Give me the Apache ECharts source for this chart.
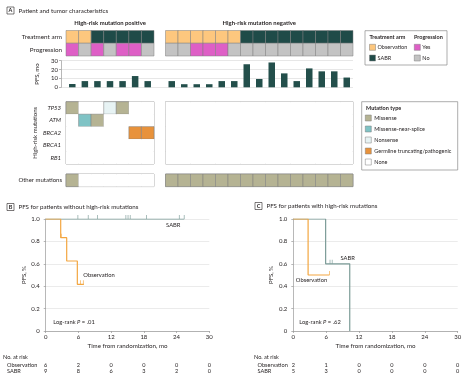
<!DOCTYPE html>
<html>
<head>
<meta charset="utf-8">
<script src="https://cdn.jsdelivr.net/npm/echarts@6/dist/echarts.min.js"></script>
<style>
html, body { margin: 0; padding: 0; background: #fff; }
#chart { width: 467px; height: 381px; }
</style>
</head>
<body>
<div id="chart"></div>
<script>
// patient rows (high-risk positive: 7 patients, negative: 15 patients)
var armPos = ['Observation', 'Observation', 'SABR', 'SABR', 'SABR', 'SABR', 'SABR'];
var armNeg = ['Observation', 'Observation', 'Observation', 'Observation', 'Observation', 'Observation',
  'SABR', 'SABR', 'SABR', 'SABR', 'SABR', 'SABR', 'SABR', 'SABR', 'SABR'];
var progPos = ['Yes', 'No', 'Yes', 'No', 'Yes', 'Yes', 'No'];
var progNeg = ['No', 'No', 'Yes', 'Yes', 'Yes', 'No', 'No', 'No', 'No', 'No', 'No', 'No', 'No', 'No', 'No'];
var pfsPos = [3.7, 7, 7, 7, 7, 12.7, 7];
var pfsNeg = [7, 3.5, 3.5, 3.5, 7, 7, 26, 9.4, 28, 15.7, 7, 21.3, 18, 18, 11];

// mutations
var genes = ['TP53', 'ATM', 'BRCA2', 'BRCA1', 'RB1'];
var GL = 'Germline truncating/pathogenic';
var tp53Pos = ['Missense', 'None', 'None', 'Nonsense', 'Missense', 'None', 'None'];
var atmPos = ['None', 'Missense-near-splice', 'Missense', 'None', 'None', 'None', 'None'];
var brca2Pos = ['None', 'None', 'None', 'None', 'None', GL, GL];
var brca1Pos = ['None', 'None', 'None', 'None', 'None', 'None', 'None'];
var rb1Pos = ['None', 'None', 'None', 'None', 'None', 'None', 'None'];
var noneNeg = ['None', 'None', 'None', 'None', 'None', 'None', 'None', 'None', 'None', 'None', 'None', 'None', 'None', 'None', 'None'];
var otherPos = ['Missense', 'None', 'None', 'None', 'None', 'None', 'None'];
var otherNeg = ['Missense', 'Missense', 'Missense', 'Missense', 'Missense', 'Missense', 'Missense', 'Missense',
  'Missense', 'Missense', 'Missense', 'Missense', 'Missense', 'Missense', 'Missense'];

// Kaplan-Meier curves [months, PFS]
var obsB = [[0, 1], [2.75, 0.833], [3.85, 0.625], [5.8, 0.417], [7.0, 0.417]];
var obsBCens = [[2.85, 0.833], [6.4, 0.417], [6.9, 0.417]];
var sabrB = [[0, 1], [25.4, 1]];
var sabrBCens = [[5.9, 1], [7.8, 1], [9.5, 1], [14.7, 1], [15.1, 1], [15.5, 1], [18.5, 1], [24.5, 1], [25.4, 1]];
var obsC = [[0, 1], [2.7, 0.5], [6.6, 0.5]];
var obsCCens = [[6.6, 0.5]];
var sabrC = [[0, 1], [5.9, 0.6], [10.3, 0]];
var sabrCCens = [[6.7, 0.6], [7.1, 0.6]];

// numbers at risk
var riskTimes = [0, 6, 12, 18, 24, 30];
var riskObsB = [6, 2, 0, 0, 0, 0];
var riskSabrB = [9, 8, 6, 3, 2, 0];
var riskObsC = [2, 1, 0, 0, 0, 0];
var riskSabrC = [5, 3, 0, 0, 0, 0];

var FONT = 'Lato';
var TXT = '#231f20';
var colorOf = {
  'Observation': '#fdc77e', 'SABR': '#1f4b48', 'Yes': '#de5fc6', 'No': '#c3c3c3',
  'Missense': '#b5b393', 'Missense-near-splice': '#7fc3c5', 'Nonsense': '#e7f3f4',
  'Germline truncating/pathogenic': '#e8923b', 'None': '#ffffff'
};
var OBS_LINE = '#f3a640';
var SABR_LINE = '#7b9b97';

var chart = echarts.init(document.getElementById('chart'), null, { renderer: 'canvas' });

function idx(n) { var a = []; for (var i = 0; i < n; i++) a.push(String(i + 1)); return a; }

function cellSeries(gi, rows) {
  var data = [], kinds = [];
  rows.forEach(function (row, r) {
    row.forEach(function (k, c) { data.push([c, r]); kinds.push(k); });
  });
  return {
    type: 'custom', xAxisIndex: gi, yAxisIndex: gi, data: data, silent: true,
    renderItem: function (params, api) {
      var kind = kinds[params.dataIndex];
      var p = api.coord([api.value(0), api.value(1)]);
      var s = api.size([1, 1]);
      return {
        type: 'rect',
        shape: { x: p[0] - s[0] / 2, y: p[1] - s[1] / 2, width: s[0], height: s[1] },
        style: { fill: colorOf[kind], stroke: kind === 'None' ? null : '#7d7d7d', lineWidth: 0.5 }
      };
    }
  };
}

var grids = [], xAxes = [], yAxes = [], series = [];
function addGrid(g, xa, ya) {
  var gi = grids.length;
  grids.push(g);
  xa.gridIndex = gi;
  ya.gridIndex = gi;
  xAxes.push(xa);
  yAxes.push(ya);
  return gi;
}
function hiddenCat(n) { return { type: 'category', data: idx(n), show: false }; }
function lbl(extra) {
  var o = { fontSize: 6, fontFamily: FONT, color: TXT };
  for (var k in extra) o[k] = extra[k];
  return o;
}

// 0,1 treatment arm / progression
[[66, 88, 7], [165.5, 187.5, 15]].forEach(function (g, i) {
  addGrid({ left: g[0], top: 30.5, width: g[1], height: 25.5 }, hiddenCat(g[2]), {
    type: 'category', data: ['Treatment arm', 'Progression'], inverse: true, show: i === 0,
    axisLine: { show: false }, axisTick: { show: false }, axisLabel: lbl({ margin: 4, fontSize: 6.3, interval: 0 })
  });
});
series.push(cellSeries(0, [armPos, progPos]));
series.push(cellSeries(1, [armNeg, progNeg]));

// 2 PFS background axis
addGrid({ left: 61, top: 60.7, width: 292, height: 26.6 }, { type: 'value', min: 0, max: 1, show: false }, {
  type: 'value', min: 0, max: 30, interval: 10, name: 'PFS, mo', nameLocation: 'middle', nameGap: 12,
  nameTextStyle: lbl({}),
  axisLine: { show: true, lineStyle: { color: '#9a9a9a', width: 0.7 } },
  axisTick: { show: true, length: 2, lineStyle: { color: '#9a9a9a', width: 0.7 } },
  axisLabel: lbl({ margin: 3 }),
  splitLine: { lineStyle: { color: '#dcdcdc', width: 0.7 } }
});
// 3,4 PFS bars
[[66, 88, 7, pfsPos], [165.5, 187.5, 15, pfsNeg]].forEach(function (g) {
  var gi = addGrid({ left: g[0], top: 60.7, width: g[1], height: 26.6 }, hiddenCat(g[2]),
    { type: 'value', min: 0, max: 30, show: false });
  series.push({
    type: 'bar', xAxisIndex: gi, yAxisIndex: gi, data: g[3], barWidth: 6.5,
    itemStyle: { color: '#234f4b' }, silent: true
  });
});

// 5,6 high-risk mutations
[[66, 88, 7], [165.5, 187.5, 15]].forEach(function (g, i) {
  addGrid({ left: g[0], top: 101.7, width: g[1], height: 62.3, show: true, borderColor: '#a0a0a0', borderWidth: 0.8 },
    hiddenCat(g[2]), {
      type: 'category', data: genes, inverse: true, show: i === 0,
      name: 'High-risk mutations', nameLocation: 'middle', nameGap: 28, nameTextStyle: lbl({}),
      axisLine: { show: false }, axisTick: { show: false },
      axisLabel: lbl({ margin: 5, fontStyle: 'italic', interval: 0 })
    });
});
series.push(cellSeries(5, [tp53Pos, atmPos, brca2Pos, brca1Pos, rb1Pos]));
series.push(cellSeries(6, [noneNeg, noneNeg, noneNeg, noneNeg, noneNeg]));

// 7,8 other mutations
[[66, 88, 7], [165.5, 187.5, 15]].forEach(function (g, i) {
  addGrid({ left: g[0], top: 174, width: g[1], height: 12.6, show: true, borderColor: '#a0a0a0', borderWidth: 0.8 },
    hiddenCat(g[2]), {
      type: 'category', data: ['Other mutations'], show: i === 0,
      axisLine: { show: false }, axisTick: { show: false }, axisLabel: lbl({ margin: 4 })
    });
});
series.push(cellSeries(7, [otherPos]));
series.push(cellSeries(8, [otherNeg]));

// 9,10 Kaplan-Meier
function kmAxes(left, width) {
  return addGrid({ left: left, top: 219, width: width, height: 112 }, {
    type: 'value', min: 0, max: 30, interval: 6,
    name: 'Time from randomization, mo', nameLocation: 'middle', nameGap: 12, nameTextStyle: lbl({ fontSize: 6.2 }),
    axisLine: { lineStyle: { color: '#9a9a9a', width: 0.7 } },
    axisTick: { length: 2, lineStyle: { color: '#9a9a9a', width: 0.7 } },
    axisLabel: lbl({ margin: 3 }), splitLine: { show: false }
  }, {
    type: 'value', min: 0, max: 1, interval: 0.2,
    name: 'PFS, %', nameLocation: 'middle', nameGap: 19, nameTextStyle: lbl({}),
    axisLine: { show: true, lineStyle: { color: '#9a9a9a', width: 0.7 } },
    axisTick: { show: true, length: 2, lineStyle: { color: '#9a9a9a', width: 0.7 } },
    axisLabel: lbl({ margin: 6, formatter: function (v) { return v === 0 ? '0' : v.toFixed(1); } }),
    splitLine: { lineStyle: { color: '#e3e3e3', width: 0.7 } }
  });
}
function kmSeries(gi, line, cens, color) {
  series.push({
    type: 'line', xAxisIndex: gi, yAxisIndex: gi, data: line, step: 'end', showSymbol: false,
    lineStyle: { color: color, width: 1.2 }, silent: true, z: 3
  });
  series.push({
    type: 'scatter', xAxisIndex: gi, yAxisIndex: gi, data: cens, symbol: 'rect',
    symbolSize: [0.8, 4], symbolOffset: [0, -2], itemStyle: { color: color }, silent: true, z: 4
  });
}
var gB = kmAxes(45.7, 163.6);
kmSeries(gB, sabrB, sabrBCens, SABR_LINE);
kmSeries(gB, obsB, obsBCens, OBS_LINE);
var gC = kmAxes(293.3, 164.4);
kmSeries(gC, sabrC, sabrCCens, SABR_LINE);
kmSeries(gC, obsC, obsCCens, OBS_LINE);

// 11,12 numbers at risk
function riskTable(left, width, labelLeft, obs, sabr) {
  var gi = addGrid({ left: left, top: 362, width: width, height: 12 },
    { type: 'value', min: 0, max: 30, show: false }, {
      type: 'category', data: ['Observation', 'SABR'], inverse: true,
      axisLine: { show: false }, axisTick: { show: false },
      axisLabel: lbl({ align: 'left', margin: left - labelLeft, fontSize: 5.6, interval: 0, hideOverlap: false })
    });
  var data = [];
  riskTimes.forEach(function (t, i) { data.push([t, 0, obs[i]]); data.push([t, 1, sabr[i]]); });
  series.push({
    type: 'custom', xAxisIndex: gi, yAxisIndex: gi, data: data, silent: true,
    renderItem: function (params, api) {
      var p = api.coord([api.value(0), api.value(1)]);
      return {
        type: 'text', x: p[0], y: p[1],
        style: { text: String(api.value(2)), fill: TXT, font: '5.6px ' + FONT, align: 'center', verticalAlign: 'middle' }
      };
    }
  });
}
riskTable(45.7, 163.6, 7, riskObsB, riskSabrB);
riskTable(293.3, 164.4, 257.5, riskObsC, riskSabrC);

// texts & legends
function t(x, y, text, extra) {
  var st = { text: text, fill: TXT, fontSize: 6, fontFamily: FONT, align: 'left', verticalAlign: 'middle' };
  for (var k in extra) st[k] = extra[k];
  return { type: 'text', x: x, y: y, style: st, silent: true };
}
function box(x, y, w, h, extra) {
  var st = { fill: 'none', stroke: '#8a8a8a', lineWidth: 0.7 };
  for (var k in extra) st[k] = extra[k];
  return { type: 'rect', shape: { x: x, y: y, width: w, height: h }, style: st, silent: true };
}
function sw(x, y, key) {
  return box(x, y, 6, 6, { fill: colorOf[key], stroke: '#7d7d7d', lineWidth: 0.5 });
}
function panel(x, y, letter, title) {
  return [
    box(x, y, 7, 7, { stroke: '#231f20', lineWidth: 0.6 }),
    t(x + 3.5, y + 3.6, letter, { fontSize: 5.5, fontWeight: 'bold', align: 'center' }),
    t(x + 11.5, y + 3.6, title, { fontSize: 6.2 })
  ];
}
var rich = { i: { fontStyle: 'italic', fontSize: 5.8, fontFamily: FONT, fill: TXT } };
var LG = 5.5;
var graphic = [].concat(
  panel(7, 7, 'A', 'Patient and tumor characteristics'),
  panel(7, 203.5, 'B', 'PFS for patients without high-risk mutations'),
  panel(255, 202.5, 'C', 'PFS for patients with high-risk mutations'),
  [
    t(110, 23.5, 'High-risk mutation positive', { fontWeight: 'bold', align: 'center', fontSize: 5.9 }),
    t(259.2, 23.5, 'High-risk mutation negative', { fontWeight: 'bold', align: 'center', fontSize: 5.9 }),
    // legend 1
    box(365, 30.7, 82, 34.3),
    t(369.5, 37.5, 'Treatment arm', { fontWeight: 'bold', fontSize: LG }),
    t(414, 37.5, 'Progression', { fontWeight: 'bold', fontSize: LG }),
    sw(369.5, 44.3, 'Observation'), t(377.5, 47.3, 'Observation', { fontSize: LG }),
    sw(369.5, 55, 'SABR'), t(377.5, 58, 'SABR', { fontSize: LG }),
    sw(414.3, 44.3, 'Yes'), t(422.3, 47.3, 'Yes', { fontSize: LG }),
    sw(414.3, 55, 'No'), t(422.3, 58, 'No', { fontSize: LG }),
    // legend 2
    box(361.7, 101.7, 96, 68.3),
    t(366, 108.5, 'Mutation type', { fontWeight: 'bold', fontSize: LG }),
    sw(365.3, 115, 'Missense'), t(374.3, 118, 'Missense', { fontSize: LG }),
    sw(365.3, 126, 'Missense-near-splice'), t(374.3, 129, 'Missense-near-splice', { fontSize: LG }),
    sw(365.3, 137, 'Nonsense'), t(374.3, 140, 'Nonsense', { fontSize: LG }),
    sw(365.3, 148, GL), t(374.3, 151, GL, { fontSize: LG }),
    sw(365.3, 159, 'None'), t(374.3, 162, 'None', { fontSize: LG }),
    // KM annotations
    t(173.3, 225.5, 'SABR', { align: 'center', fontSize: 5.8 }),
    t(99, 274.7, 'Observation', { align: 'center', fontSize: 5.8 }),
    t(53.3, 322.3, 'Log-rank {i|P} = .01', { rich: rich, fontSize: 5.8 }),
    t(347.7, 257.7, 'SABR', { align: 'center', fontSize: 5.8 }),
    t(311.5, 280.3, 'Observation', { align: 'center', fontSize: 5.8 }),
    t(299.3, 322.3, 'Log-rank {i|P} = .62', { rich: rich, fontSize: 5.8 }),
    t(3, 356.7, 'No. at risk', { fontSize: 5.6 }),
    t(254, 356.7, 'No. at risk', { fontSize: 5.6 })
  ]
);

var option = {
  animation: false,
  backgroundColor: '#fff',
  grid: grids,
  xAxis: xAxes,
  yAxis: yAxes,
  series: series,
  graphic: graphic
};
chart.setOption(option);
</script>
</body>
</html>
